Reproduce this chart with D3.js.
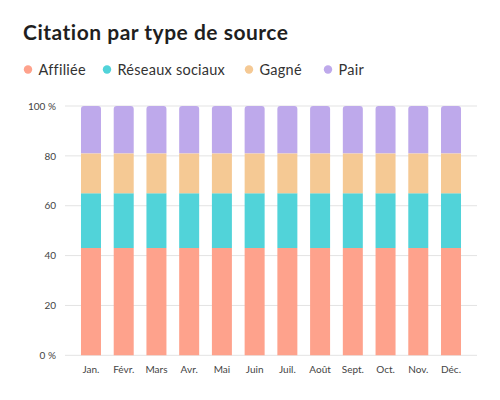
<!DOCTYPE html>
<html><head><meta charset="utf-8">
<script src="https://cdn.jsdelivr.net/npm/d3@7"></script>
<style>body{margin:0;background:#fff}svg{display:block}</style>
</head><body>
<svg id="c" width="500" height="400"></svg>
<script>
const months = ["Jan.","Févr.","Mars","Avr.","Mai","Juin","Juil.","Août","Sept.","Oct.","Nov.","Déc."];
const seriesNames = ["Affiliée","Réseaux sociaux","Gagné","Pair"];
const affiliee = [43,43,43,43,43,43,43,43,43,43,43,43];
const reseaux  = [22,22,22,22,22,22,22,22,22,22,22,22];
const gagne    = [16,16,16,16,16,16,16,16,16,16,16,16];
const pair     = [19,19,19,19,19,19,19,19,19,19,19,19];
const yTicks = [0,20,40,60,80,100];
const colors = ["#FEA28C","#51D3D9","#F5C994","#BEA9EB"];

const svg = d3.select("#c");
const font = "Lato, 'Open Sans', sans-serif";
svg.append("text").attr("x",23).attr("y",40).text("Citation par type de source")
  .attr("font-family",font).attr("font-weight",700).attr("font-size",21)
  .attr("letter-spacing",0.5).attr("fill","#1f1f1f");

const legX = [28,107,249,328];
seriesNames.forEach((n,i)=>{
  const g = svg.append("g").attr("transform",`translate(${legX[i]},69.5)`);
  g.append("circle").attr("r",4.2).attr("fill",colors[i]);
  g.append("text").attr("x",10.5).attr("y",5).text(n).attr("font-family",font)
    .attr("font-size",14.5).attr("letter-spacing",0.25).attr("fill","#333");
});

const x = d3.scaleBand().domain(months).range([65,477]).paddingInner(0.389).paddingOuter(0.4885);
const y = d3.scaleLinear().domain([0,100]).range([355.3,106]);

const grid = svg.append("g");
grid.selectAll("line").data(yTicks).join("line")
  .attr("x1",65).attr("x2",477).attr("y1",d=>y(d)).attr("y2",d=>y(d))
  .attr("stroke","#e3e3e3").attr("stroke-width",1);

const yAxis = svg.append("g").attr("transform","translate(65,0)")
  .call(d3.axisLeft(y).tickValues(yTicks).tickSize(0).tickPadding(9)
    .tickFormat(d=> (d===0||d===100) ? d+" %" : d));
yAxis.select(".domain").remove();
yAxis.selectAll("text").attr("font-family",font).attr("font-size",10).attr("fill","#444");

const xAxis = svg.append("g").attr("transform","translate(0,355.3)")
  .call(d3.axisBottom(x).tickSize(0).tickPadding(11));
xAxis.select(".domain").remove();
xAxis.selectAll("text").attr("font-family",font).attr("font-size",10).attr("fill","#444");

const table = months.map((m,i)=>({month:m, "Affiliée":affiliee[i], "Réseaux sociaux":reseaux[i], "Gagné":gagne[i], "Pair":pair[i]}));
const stack = d3.stack().keys(seriesNames)(table);
const r = 3;
stack.forEach((layer,li)=>{
  svg.append("g").selectAll("path").data(layer).join("path")
    .attr("fill",colors[li])
    .attr("d",d=>{
      const x0 = x(d.data.month), w = x.bandwidth();
      const yt = y(d[1]), yb = y(d[0]);
      if (li === seriesNames.length-1) {
        return `M${x0},${yb}V${yt+r}Q${x0},${yt} ${x0+r},${yt}H${x0+w-r}Q${x0+w},${yt} ${x0+w},${yt+r}V${yb}Z`;
      }
      return `M${x0},${yb}V${yt}H${x0+w}V${yb}Z`;
    });
});
</script>
</body></html>
